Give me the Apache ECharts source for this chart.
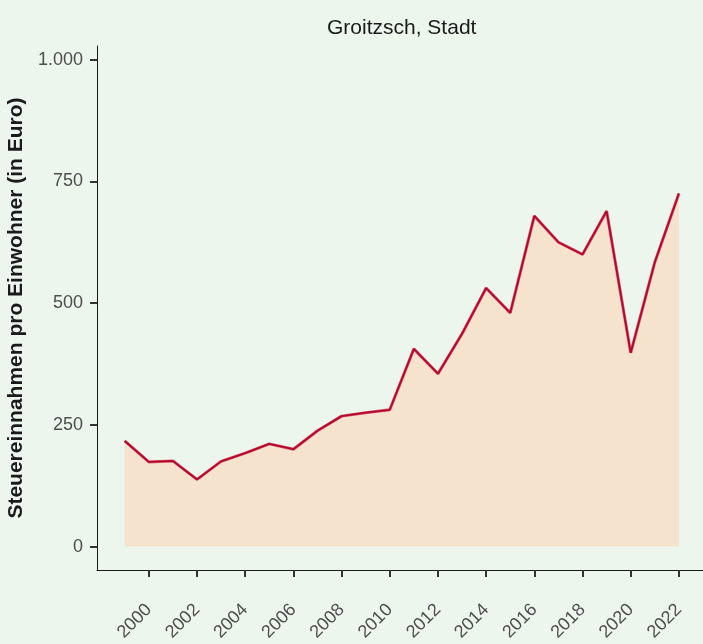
<!DOCTYPE html>
<html>
<head>
<meta charset="utf-8">
<script src="https://cdn.jsdelivr.net/npm/echarts@6/dist/echarts.min.js"></script>
<style>
  html, body { margin: 0; padding: 0; background: #EDF6EC; }
  #chart { width: 703px; height: 644px; }
</style>
</head>
<body>
<div id="chart"></div>
<script>
const years = [1999, 2000, 2001, 2002, 2003, 2004, 2005, 2006, 2007, 2008, 2009, 2010,
  2011, 2012, 2013, 2014, 2015, 2016, 2017, 2018, 2019, 2020, 2021, 2022];
const values = [217, 174, 176, 138, 175, 192, 211, 200, 238, 268, 275, 281,
  406, 355, 437, 531, 480, 679, 625, 600, 689, 398, 584, 725];
const xTicks = [2000, 2002, 2004, 2006, 2008, 2010, 2012, 2014, 2016, 2018, 2020, 2022];
const yTicks = [0, 250, 500, 750, 1000];

const points = years.map((y, i) => [y, values[i]]);
const font = 'Liberation Sans, Arial, Helvetica, sans-serif';

const chart = echarts.init(document.getElementById('chart'));
chart.setOption({
  backgroundColor: '#EDF6EC',
  animation: false,
  title: {
    text: 'Groitzsch, Stadt',
    left: 322,
    top: 13,
    textStyle: { fontFamily: font, fontSize: 21, fontWeight: 'normal', color: '#1a1a1a' },
  },
  grid: { left: 97, top: 46, right: 0, bottom: 74, containLabel: false, outerBoundsMode: 'none' },
  xAxis: {
    type: 'value',
    min: 1997.85,
    max: 2023.0,
    axisLine: { show: true, onZero: false, lineStyle: { color: '#1a1a1a', width: 1 } },
    axisTick: { show: true, customValues: xTicks, length: 7, lineStyle: { color: '#333', width: 2 } },
    axisLabel: {
      customValues: xTicks,
      rotate: 45,
      margin: 37,
      fontFamily: font,
      fontSize: 18,
      color: '#4D4D4D',
      formatter: (v) => String(v),
    },
    splitLine: { show: false },
  },
  yAxis: {
    type: 'value',
    min: -48,
    max: 1028,
    name: 'Steuereinnahmen pro Einwohner (in Euro)',
    nameLocation: 'middle',
    nameGap: 70,
    nameTextStyle: { fontFamily: font, fontSize: 21, fontWeight: 'bold', color: '#1a1a1a' },
    axisLine: { show: true, onZero: false, lineStyle: { color: '#1a1a1a', width: 1 } },
    axisTick: { show: true, customValues: yTicks, length: 7, lineStyle: { color: '#333', width: 2 } },
    axisLabel: {
      customValues: yTicks,
      margin: 14,
      fontFamily: font,
      fontSize: 18,
      color: '#4D4D4D',
      formatter: (v) => v.toLocaleString('de-DE'),
    },
    splitLine: { show: false },
  },
  series: [
    {
      type: 'line',
      data: points,
      showSymbol: false,
      lineStyle: { color: '#D65A72', width: 3 },
      areaStyle: { color: '#F5E3CD', opacity: 1, origin: 0 },
      z: 2,
    },
    {
      type: 'line',
      data: points,
      showSymbol: false,
      lineStyle: { color: '#B3072B', width: 1.8 },
      z: 3,
    },
  ],
});
</script>
</body>
</html>
